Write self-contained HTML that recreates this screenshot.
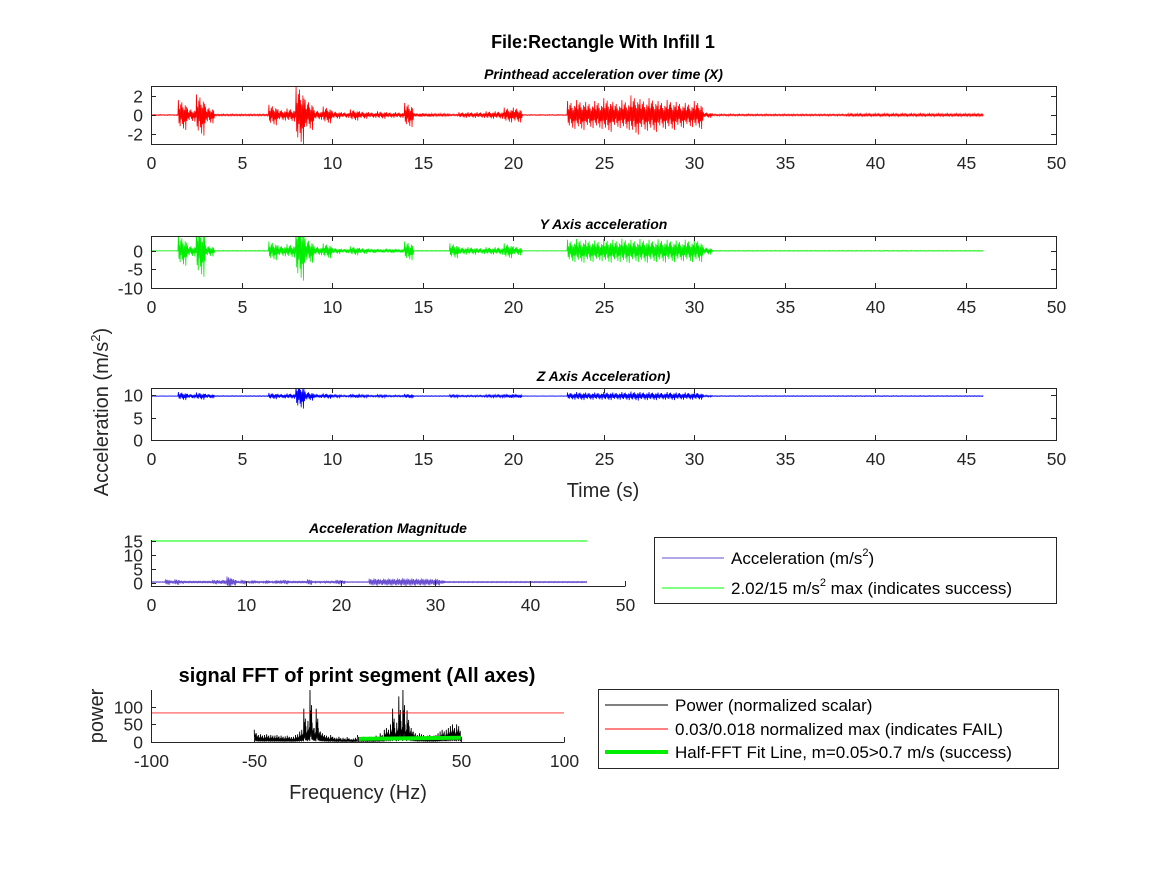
<!DOCTYPE html>
<html><head><meta charset="utf-8"><style>
body{margin:0;background:#fff}
svg{display:block;font-family:"Liberation Sans",Arial,sans-serif}
.tk{font-size:17.5px;fill:#262626}
.st{font-size:14px;font-weight:bold;font-style:italic;fill:#000}
</style></head><body>
<svg id="fig" width="1167" height="875" viewBox="0 0 1167 875">
<rect width="1167" height="875" fill="#fff"/>
<text x="603" y="48" text-anchor="middle" font-size="18" font-weight="bold">File:Rectangle With Infill 1</text>
<text transform="translate(108,412) rotate(-90)" text-anchor="middle" font-size="20" fill="#262626">Acceleration (m/s<tspan font-size="13" dy="-8">2</tspan><tspan dy="8">)</tspan></text>
<text x="603" y="497" text-anchor="middle" font-size="20" fill="#262626">Time (s)</text>
<text x="357" y="682" text-anchor="middle" font-size="20" font-weight="bold">signal FFT of print segment (All axes)</text>
<text transform="translate(103,716) rotate(-90)" text-anchor="middle" font-size="20" fill="#262626">power</text>
<text x="358" y="799" text-anchor="middle" font-size="20" fill="#262626">Frequency (Hz)</text>
<g id="plots"></g>
<g>
<rect x="654.5" y="537.5" width="402" height="66" fill="#fff" stroke="#262626"/>
<line x1="662" y1="558" x2="724" y2="558" stroke="#6a4fd0"/>
<text x="731" y="564" font-size="17" fill="#000">Acceleration (m/s<tspan font-size="11" dy="-8">2</tspan><tspan dy="8">)</tspan></text>
<line x1="662" y1="588" x2="724" y2="588" stroke="#00ff00"/>
<text x="731" y="594" font-size="17" fill="#000">2.02/15 m/s<tspan font-size="11" dy="-8">2</tspan><tspan dy="8"> max (indicates success)</tspan></text>
</g>
<g>
<rect x="598.5" y="689.5" width="460" height="79" fill="#fff" stroke="#262626"/>
<line x1="605" y1="705" x2="668" y2="705" stroke="#000"/>
<text x="675" y="711" font-size="17">Power (normalized scalar)</text>
<line x1="605" y1="729" x2="668" y2="729" stroke="#ff0000"/>
<text x="675" y="735" font-size="17">0.03/0.018 normalized max (indicates FAIL)</text>
<line x1="605" y1="752" x2="668" y2="752" stroke="#00ee00" stroke-width="4"/>
<text x="675" y="758" font-size="17">Half-FFT Fit Line, m=0.05&gt;0.7 m/s (success)</text>
</g>
</svg>
<script>
// data: amplitude envelopes per 0.5 s bin (0..46 s)
const xAmp=[0.05,0.05,0.05,1.6,0.7,2.2,0.9,0.1,0.1,0.1,0.1,0.1,0.1,1.1,0.6,0.7,3.2,1.6,0.5,0.9,0.4,0.3,0.6,0.4,0.3,0.4,0.3,0.3,1.3,0.2,0.2,0.15,0.15,0.1,0.3,0.3,0.3,0.4,0.4,0.8,0.8,0.05,0.05,0.05,0.05,0.05,1.5,1.6,1.4,1.5,1.8,1.4,1.6,2.1,1.7,1.8,1.5,1.6,1.4,1.3,1.5,0.3,0.1,0.1,0.1,0.1,0.1,0.1,0.1,0.1,0.1,0.1,0.1,0.1,0.1,0.1,0.1,0.15,0.15,0.15,0.15,0.15,0.15,0.15,0.15,0.15,0.15,0.15,0.15,0.15,0.15,0.15];
const yAmp=[0.02,0.02,0.02,4,1.5,7,1.5,0.1,0.1,0.1,0.1,0.1,0.1,2.5,1.5,1.8,8,3.2,1.2,2,0.8,0.6,1.2,0.8,0.6,0.5,0.6,0.5,2.5,0.1,0.1,0.1,0.1,2,1,1,0.8,1,1,2,1.2,0.05,0.05,0.05,0.05,0.05,3,3.2,3,2.8,3.2,3,3.3,3,3.2,3,3.1,3,2.8,3,3,1,0.1,0.1,0.1,0.1,0.1,0.1,0.1,0.1,0.1,0.1,0.1,0.1,0.1,0.1,0.1,0.1,0.1,0.1,0.1,0.1,0.1,0.1,0.1,0.1,0.1,0.1,0.1,0.1,0.1,0.1];
const zAmp=[0.05,0.05,0.05,0.9,0.5,0.8,0.5,0.1,0.1,0.1,0.1,0.1,0.1,0.7,0.5,0.6,2.8,1,0.4,0.6,0.3,0.2,0.4,0.3,0.2,0.3,0.2,0.2,0.5,0.1,0.1,0.1,0.1,0.3,0.2,0.2,0.2,0.3,0.3,0.4,0.4,0.05,0.05,0.05,0.05,0.05,0.8,0.9,0.8,0.8,0.9,0.8,0.9,1,0.9,0.9,0.8,0.9,0.8,0.8,0.8,0.2,0.1,0.1,0.1,0.1,0.1,0.1,0.1,0.1,0.1,0.1,0.1,0.1,0.1,0.1,0.1,0.1,0.1,0.1,0.1,0.1,0.1,0.1,0.1,0.1,0.1,0.1,0.1,0.1,0.1,0.1];
const mAmp=[0.1,0.1,0.1,1,0.6,1,0.6,0.2,0.2,0.2,0.2,0.2,0.2,0.8,0.7,0.8,2,1.2,0.5,0.8,0.4,0.3,0.5,0.4,0.3,0.4,0.3,0.3,0.8,0.2,0.2,0.2,0.2,1,0.4,0.4,0.4,0.5,0.5,0.8,0.7,0.1,0.1,0.1,0.1,0.1,1.2,1.3,1.1,1.2,1.3,1.2,1.3,1.4,1.3,1.3,1.2,1.3,1.2,1.1,1.2,0.3,0.15,0.15,0.15,0.15,0.15,0.15,0.15,0.15,0.15,0.15,0.15,0.15,0.15,0.15,0.15,0.15,0.15,0.15,0.15,0.15,0.15,0.15,0.15,0.15,0.15,0.15,0.15,0.15,0.15,0.15];
const binWidth=0.5;
const timeTicks=[0,5,10,15,20,25,30,35,40,45,50];
const magTimeTicks=[0,10,20,30,40,50];
const xTicksY=[-2,0,2], yTicksY=[-10,-5,0], zTicksY=[0,5,10], mTicksY=[0,5,10,15];
const magLimit=15;
// FFT: peak power per 1 Hz bin from -50 to 49 Hz
const fftPeak=[35,25,20,22,18,20,22,18,20,18,18,20,16,18,15,16,18,15,14,15,20,22,30,35,95,45,60,150,55,40,95,40,30,25,20,18,15,20,15,12,12,15,10,12,10,14,10,8,10,12,20,14,12,15,12,14,15,12,14,18,15,25,20,35,40,35,50,95,40,55,130,60,150,50,90,45,40,30,25,20,25,22,20,15,18,20,15,18,20,25,30,35,30,35,40,45,50,40,50,45];
const fftStart=-50;
const fftThreshold=83;
const fitLine=[[0,9],[50,12]];
const fftTicksX=[-100,-50,0,50,100], fftTicksY=[0,50,100];
const pattern=[1,-0.55,0.4,-0.75,0.7,-0.3,0.85,-0.6,0.5,-0.9,0.35,-0.45,0.65,-1,0.55,-0.4];
const fftPattern=[1,0.15,0.6,0.1,0.45,0.2,0.7,0.05];

const NS='http://www.w3.org/2000/svg';
const root=document.getElementById('plots');
function mk(tag,attrs,parent){const e=document.createElementNS(NS,tag);for(const k in attrs)e.setAttribute(k,attrs[k]);(parent||root).appendChild(e);return e;}
let clipN=0;
function axes(name,x0,x1,y0,y1,xmin,xmax,ymin,ymax,xt,yt,title,box){
  const g=mk('g',{});
  
  
  const sx=v=>x0+(v-xmin)/(xmax-xmin)*(x1-x0);
  const sy=v=>y1-(v-ymin)/(ymax-ymin)*(y1-y0);
  const id='c'+(clipN++);
  const cp=mk('clipPath',{id},g);mk('rect',{x:x0,y:y0,width:x1-x0,height:y1-y0},cp);
  const plot=mk('g',{'clip-path':`url(#${id})`},g);
  const frame=mk('g',{},g);
  if(box) mk('rect',{x:x0+.5,y:y0+.5,width:x1-x0,height:y1-y0,fill:'none',stroke:'#262626'},frame);
  else{mk('line',{x1:x0+.5,y1:y0,x2:x0+.5,y2:y1+.5,stroke:'#262626'},frame);mk('line',{x1:x0,y1:y1+.5,x2:x1+.5,y2:y1+.5,stroke:'#262626'},frame);}
  xt.forEach(v=>{const X=Math.round(sx(v))+.5;
    mk('line',{x1:X,y1:y1,x2:X,y2:y1-5,stroke:'#262626'},frame);
    if(box)mk('line',{x1:X,y1:y0,x2:X,y2:y0+5,stroke:'#262626'},frame);
    const t=mk('text',{x:X,y:y1+25,'text-anchor':'middle',class:'tk'},frame);t.textContent=v;});
  yt.forEach(v=>{const Y=Math.round(sy(v))+.5;
    mk('line',{x1:x0,y1:Y,x2:x0+5,y2:Y,stroke:'#262626'},frame);
    if(box)mk('line',{x1:x1,y1:Y,x2:x1-5,y2:Y,stroke:'#262626'},frame);
    const t=mk('text',{x:x0-8,y:Y+6,'text-anchor':'end',class:'tk'},frame);t.textContent=v;});
  if(title){const t=mk('text',{x:(x0+x1)/2,y:y0-7,'text-anchor':'middle',class:'st'},g);t.textContent=title;}
  return {sx,sy,plot};
}
function signal(ax,amps,base,color,name){
  const pts=[];
  amps.forEach((a,i)=>{
    const t0=i*binWidth;
    for(let k=0;k<pattern.length;k++){
      const t=t0+binWidth*(k+0.5)/pattern.length;
      pts.push(ax.sx(t).toFixed(2)+','+ax.sy(base+a*pattern[k]).toFixed(2));
    }
  });
  const p=mk('polyline',{points:pts.join(' '),stroke:color,'stroke-width':0.8,fill:'none'},ax.plot);
  
  
}
const a1=axes('x-accel-axes',151,1056,86,144,0,50,-3.1,3.1,timeTicks,xTicksY,'Printhead acceleration over time (X)',true);
signal(a1,xAmp,0,'#ff0000','x-accel-series');
const a2=axes('y-accel-axes',151,1056,236,288,0,50,-10,4,timeTicks,yTicksY,'Y Axis acceleration',true);
signal(a2,yAmp,0,'#00ee00','y-accel-series');
const a3=axes('z-accel-axes',151,1056,388,440,0,50,0,11.6,timeTicks,zTicksY,'Z Axis Acceleration)',true);
signal(a3,zAmp,9.8,'#0000ff','z-accel-series');
const a4=axes('magnitude-axes',151,625,540,586,0,50,-1,15.3,magTimeTicks,mTicksY,'Acceleration Magnitude',false);
signal(a4,mAmp,0.4,'#6a4fd0','magnitude-series');
const ml=mk('line',{x1:a4.sx(0),y1:a4.sy(magLimit),x2:a4.sx(mAmp.length*binWidth),y2:a4.sy(magLimit),stroke:'#00ff00','stroke-opacity':0.55,'stroke-width':2},a4.plot);


const a5=axes('fft-axes',151,564,690,742,-100,100,0,148,fftTicksX,fftTicksY,'',false);
const fpts=[];
fftPeak.forEach((v,i)=>{const f=fftStart+i;
  fftPattern.forEach((p,k)=>{fpts.push(a5.sx(f+k/fftPattern.length).toFixed(2)+','+a5.sy(v*p).toFixed(2));});});
const fp=mk('polyline',{points:fpts.join(' '),stroke:'#000',fill:'none','stroke-width':0.9},a5.plot);


const th=mk('line',{x1:a5.sx(-100),y1:a5.sy(fftThreshold),x2:a5.sx(100),y2:a5.sy(fftThreshold),stroke:'#ff0000','stroke-opacity':0.5,'stroke-width':1.5},a5.plot);


const fl=mk('line',{x1:a5.sx(fitLine[0][0]),y1:a5.sy(fitLine[0][1]),x2:a5.sx(fitLine[1][0]),y2:a5.sy(fitLine[1][1]),stroke:'#00ee00','stroke-width':4},a5.plot);


</script>
</body></html>
